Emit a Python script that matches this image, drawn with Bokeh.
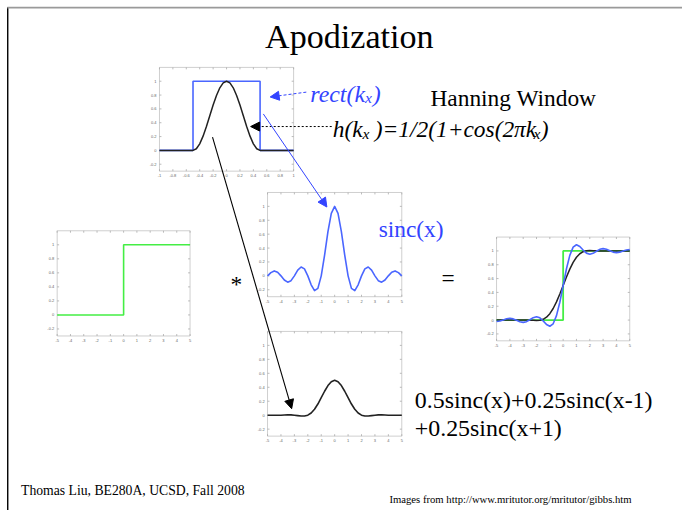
from bokeh.plotting import figure
from bokeh.models import Range1d, Arrow, NormalHead
from bokeh.core.properties import value
from bokeh.embed import file_html
from bokeh.resources import INLINE

# ---------------- data ----------------
# Hanning window panel (k_x from -1 to 1)
hann_k = [-1.0, -0.5, -0.45, -0.4, -0.35, -0.3, -0.25, -0.2, -0.15, -0.1, -0.05, 0.0,
          0.05, 0.1, 0.15, 0.2, 0.25, 0.3, 0.35, 0.4, 0.45, 0.5, 1.0]
hann_h = [0, 0, 0.024, 0.095, 0.206, 0.345, 0.5, 0.655, 0.794, 0.905, 0.976, 1.0,
          0.976, 0.905, 0.794, 0.655, 0.5, 0.345, 0.206, 0.095, 0.024, 0, 0]
rect_k = [-1.0, -0.5, -0.5, 0.5, 0.5, 1.0]
rect_h = [0, 0, 1, 1, 0, 0]

# x positions for the sinc / step panels
xs = [-5, -4.75, -4.5, -4.25, -4, -3.75, -3.5, -3.25, -3, -2.75, -2.5, -2.25, -2, -1.75,
      -1.5, -1.25, -1, -0.75, -0.5, -0.25, 0, 0.25, 0.5, 0.75, 1, 1.25, 1.5, 1.75, 2,
      2.25, 2.5, 2.75, 3, 3.25, 3.5, 3.75, 4, 4.25, 4.5, 4.75, 5]
sinc_y = [0, 0.047, 0.071, 0.053, 0, -0.06, -0.091, -0.069, 0, 0.082, 0.127, 0.1, 0,
          -0.129, -0.212, -0.18, 0, 0.3, 0.637, 0.9, 1.0, 0.9, 0.637, 0.3, 0, -0.18,
          -0.212, -0.129, 0, 0.1, 0.127, 0.082, 0, -0.069, -0.091, -0.06, 0, 0.053,
          0.071, 0.047, 0]
apod_y = [0, 0, 0, 0, 0, 0.002, 0.004, 0.004, 0, -0.006, -0.012, -0.012, 0, 0.031,
          0.085, 0.16, 0.25, 0.343, 0.424, 0.48, 0.5, 0.48, 0.424, 0.343, 0.25, 0.16,
          0.085, 0.031, 0, -0.012, -0.012, -0.006, 0, 0.004, 0.004, 0.002, 0, 0, 0, 0, 0]
step_x = [-5, 0, 0, 5]
step_y = [0, 0, 1, 1]
gibbs_y = [-0.020, -0.014, 0.002, 0.018, 0.025, 0.017, -0.003, -0.024, -0.033, -0.023,
           0.005, 0.035, 0.049, 0.032, -0.012, -0.064, -0.089, -0.054, 0.064, 0.258,
           0.5, 0.742, 0.936, 1.054, 1.089, 1.064, 1.012, 0.968, 0.951, 0.965, 0.995,
           1.023, 1.033, 1.024, 1.003, 0.983, 0.975, 0.982, 0.998, 1.014, 1.020]
smooth_y = [0, 0, 0, 0, 0, 0, 0, 0, 0, 0, -0.001, -0.004, -0.006, -0.003, 0.011, 0.041,
            0.092, 0.167, 0.263, 0.377, 0.5, 0.623, 0.737, 0.833, 0.908, 0.959, 0.989,
            1.003, 1.006, 1.004, 1.001, 1.0, 1.0, 1.0, 1.0, 1.0, 1.0, 1.0, 1.0, 1.0, 1.0]

# tick labels
k_ticks = [-1, -0.8, -0.6, -0.4, -0.2, 0, 0.2, 0.4, 0.6, 0.8, 1]
k_labels = ["-1", "-0.8", "-0.6", "-0.4", "-0.2", "0", "0.2", "0.4", "0.6", "0.8", "1"]
x_ticks = [-5, -4, -3, -2, -1, 0, 1, 2, 3, 4, 5]
x_labels = ["-5", "-4", "-3", "-2", "-1", "0", "1", "2", "3", "4", "5"]
y_ticks = [-0.2, 0, 0.2, 0.4, 0.6, 0.8, 1]
y_labels = ["-0.2", "0", "0.2", "0.4", "0.6", "0.8", "1"]

# ---------------- canvas (slide coordinates 698 x 526) ----------------
CX0, CX1, CY0, CY1 = 0, 698, 0, 526
S = 0.975  # text scale of the slide inside the 682 x 510 figure
p = figure(width=682, height=510, x_range=Range1d(CX0, CX1), y_range=Range1d(CY1, CY0),
           output_backend="svg", toolbar_location=None, min_border=0,
           x_axis_location=None, y_axis_location=None)
p.grid.visible = False
p.outline_line_color = None
p.background_fill_color = "white"
p.border_fill_color = "white"

SERIF = value("Liberation Serif")
SANS = value("Liberation Sans")
BLUE = "#4a66ff"
TBLUE = "#3344ff"
GREEN = "#44ee44"
BLACK = "#222222"

# slide edges
p.line([7.4, 7.4], [7, 526], line_color="black", line_width=1.4)
p.line([7, 698], [7.4, 7.4], line_color="#9a9a9a", line_width=1.6)


def panel(name, box, xr, yr, xt, xl, yt, yl):
    L, T, R, B = box
    x0, x1 = xr
    y0, y1 = yr
    kx = (x1 - x0) / (R - L)
    ky = (y1 - y0) / (B - T)
    p.extra_x_ranges[name] = Range1d(x0 + (CX0 - L) * kx, x0 + (CX1 - L) * kx)
    p.extra_y_ranges[name] = Range1d(y0 + (B - CY1) * ky, y0 + (B - CY0) * ky)
    kw = dict(x_range_name=name, y_range_name=name)
    p.quad(left=[x0], right=[x1], bottom=[y0], top=[y1], fill_color=None,
           line_color="#cfcfcf", line_width=1, **kw)
    tl = 2.0
    p.segment(x0=xt + xt, y0=[y0] * len(xt) + [y1] * len(xt),
              x1=xt + xt, y1=[y0 + tl * ky] * len(xt) + [y1 - tl * ky] * len(xt),
              line_color="#aaaaaa", line_width=0.8, **kw)
    p.segment(x0=[x0] * len(yt) + [x1] * len(yt), y0=yt + yt,
              x1=[x0 + tl * kx] * len(yt) + [x1 - tl * kx] * len(yt), y1=yt + yt,
              line_color="#aaaaaa", line_width=0.8, **kw)
    p.text(x=xt, y=[y0 - 3 * ky] * len(xt), text=xl, text_font=SANS,
           text_font_size="4px", text_align="center", text_baseline="top",
           text_color="#666666", **kw)
    p.text(x=[x0 - 3 * kx] * len(yt), y=yt, text=yl, text_font=SANS,
           text_font_size="4px", text_align="right", text_baseline="middle",
           text_color="#666666", **kw)
    return kw


yr = (-0.3, 1.2)
kw1 = panel("hann", (162.7, 69, 300, 176), (-1, 1), yr, k_ticks, k_labels, y_ticks, y_labels)
p.line(rect_k, rect_h, line_color=BLUE, line_width=1.6, **kw1)
p.line(hann_k, hann_h, line_color=BLACK, line_width=1.5, **kw1)

kw2 = panel("sinc", (273.3, 198, 410.7, 305.5), (-5, 5), yr, x_ticks, x_labels, y_ticks, y_labels)
p.line(xs, sinc_y, line_color=BLUE, line_width=1.6, line_join="round", **kw2)

kw3 = panel("step", (58, 237.5, 194, 346), (-5, 5), yr, x_ticks, x_labels, y_ticks, y_labels)
p.line(step_x, step_y, line_color=GREEN, line_width=1.6, **kw3)

kw4 = panel("res", (507.7, 244, 644, 351), (-5, 5), yr, x_ticks, x_labels, y_ticks, y_labels)
p.line(step_x, step_y, line_color=GREEN, line_width=1.8, **kw4)
p.line(xs, smooth_y, line_color=BLACK, line_width=1.5, line_join="round", **kw4)
p.line(xs, gibbs_y, line_color=BLUE, line_width=1.6, line_join="round", **kw4)

kw5 = panel("apod", (273.3, 341.3, 410.7, 449.3), (-5, 5), yr, x_ticks, x_labels, y_ticks, y_labels)
p.line(xs, apod_y, line_color=BLACK, line_width=1.6, line_join="round", **kw5)

# ---------------- arrows ----------------
p.add_layout(Arrow(end=NormalHead(size=9, fill_color=TBLUE, line_color=TBLUE),
                   x_start=313, y_start=94.5, x_end=276, y_end=99.5,
                   line_color=TBLUE, line_width=1, line_dash="3 2"))
p.add_layout(Arrow(end=NormalHead(size=9, fill_color="black", line_color="black"),
                   x_start=339, y_start=130, x_end=256, y_end=130,
                   line_color="black", line_width=1, line_dash="2 2"))
p.add_layout(Arrow(end=NormalHead(size=9, fill_color=TBLUE, line_color=TBLUE),
                   x_start=269, y_start=117, x_end=334, y_end=213,
                   line_color=TBLUE, line_width=1))
p.add_layout(Arrow(end=NormalHead(size=9, fill_color="black", line_color="black"),
                   x_start=217, y_start=141, x_end=298, y_end=421,
                   line_color="black", line_width=1.1))


# ---------------- texts (y = vertical middle of the line) ----------------
def txt(x, y, s, size, color="black", style="normal", align="left"):
    p.text(x=[x], y=[y], text=[s], text_font=SERIF, text_font_size=f"{size * S:.1f}px",
           text_font_style=style, text_color=color, text_align=align,
           text_baseline="middle")


txt(357, 37, "Apodization", 35, align="center")
txt(317, 96, "rect(k", 24.5, TBLUE, "italic")
txt(373, 100.5, "x", 16, TBLUE, "italic")
txt(381, 96, ")", 24.5, TBLUE, "italic")
txt(440, 101, "Hanning Window", 24)
txt(340, 133, "h(k", 24, "black", "italic")
txt(370.5, 137.5, "x", 16, "black", "italic")
txt(383, 133, ")=1/2(1+cos(2\u03c0k", 24, "black", "italic")
txt(545.5, 137.5, "x", 16, "black", "italic")
txt(553, 133, ")", 24, "black", "italic")
txt(387, 236, "sinc(x)", 24, TBLUE)
txt(241.5, 292, "*", 24, align="center")
txt(458, 286, "=", 24, align="center")
txt(424, 412.5, "0.5sinc(x)+0.25sinc(x-1)", 24.5)
txt(424, 441, "+0.25sinc(x+1)", 24.5)
txt(21, 505, "Thomas Liu, BE280A, UCSD, Fall 2008", 14)
txt(398, 514.5, "Images from http://www.mritutor.org/mritutor/gibbs.htm", 11)

open("out.html", "w").write(file_html(p, INLINE))
